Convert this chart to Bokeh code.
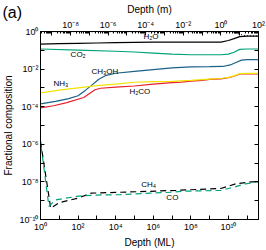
import math
from bokeh.plotting import figure
from bokeh.models import Range1d, LogScale, LogAxis, FixedTicker, CustomJSTickFormatter, Label
from bokeh.embed import file_html
from bokeh.resources import INLINE

# ---- data (depth in monolayers, fractional composition) ----
depth_h2o = [1, 10, 100, 1e3, 1e4, 1e5, 1e6, 1e7, 1e8, 1e9, 4e9, 1e10, 2e10, 4e10, 1e11, 4e11]
h2o = [0.214, 0.224, 0.234, 0.245, 0.257, 0.263, 0.269, 0.269, 0.269, 0.269, 0.275, 0.331, 0.417, 0.537, 0.562, 0.562]

depth_co2 = [1, 100, 1e4, 1e5, 1e6, 1e7, 1e8, 1e9, 4e9, 1e10, 2e10, 4e10, 1e11, 4e11]
co2 = [0.117, 0.102, 0.089, 0.081, 0.071, 0.062, 0.058, 0.058, 0.058, 0.063, 0.079, 0.112, 0.117, 0.117]

depth_ch3oh = [1, 6.3, 31.6, 100, 251, 501, 1259, 3162, 1e4, 1e5, 1e6, 1e7, 1e8, 1e9, 5e9, 1.26e10, 2.5e10, 5e10, 1e11, 4e11]
ch3oh = [1.41e-4, 1.91e-4, 2.69e-4, 3.80e-4, 7.59e-4, 1.32e-3, 2.88e-3, 4.68e-3, 6.03e-3, 7.59e-3,
         9.33e-3, 1.15e-2, 1.32e-2, 1.35e-2, 1.38e-2, 1.66e-2, 2.24e-2, 3.02e-2, 3.16e-2, 3.16e-2]

depth_nh3 = [1, 10, 100, 1e3, 1e4, 1e5, 1e6, 1e7, 1e8, 1e9, 4e9, 1e10, 2e10, 4e10, 1e11, 4e11]
nh3 = [5.50e-4, 7.59e-4, 1.0e-3, 1.32e-3, 1.58e-3, 2.0e-3, 2.14e-3, 2.24e-3, 2.51e-3, 2.95e-3,
       3.16e-3, 3.63e-3, 4.37e-3, 5.75e-3, 5.89e-3, 5.89e-3]

depth_h2co = [1, 5, 25, 200, 794, 1585, 1e4, 1e5, 1e6, 1e7, 3.16e7, 1e8, 4e8, 1e9, 4e9, 1e10, 2e10, 4e10, 1e11, 4e11]
h2co = [8.71e-5, 1.12e-4, 1.66e-4, 3.09e-4, 7.94e-4, 9.55e-4, 1.10e-3, 1.26e-3, 1.58e-3, 1.91e-3,
        2.04e-3, 2.29e-3, 2.51e-3, 2.82e-3, 3.02e-3, 3.47e-3, 4.17e-3, 5.50e-3, 5.62e-3, 5.62e-3]

depth_co = [1, 2.8, 6.3, 100, 1e3, 1.8e4, 7e5, 1e7, 3.16e7, 4e9, 2.5e10, 8e10, 4e11]
co = [1.4e-6, 5.0e-10, 1.1e-9, 1.74e-9, 2.0e-9, 2.09e-9, 2.51e-9, 2.82e-9, 3.16e-9, 3.55e-9, 5.62e-9, 7.94e-9, 1.0e-8]

depth_ch4 = [1, 3.5, 10, 100, 500, 1.8e4, 7e5, 1.6e7, 4e9, 2.5e10, 1.6e11, 4e11]
ch4 = [1.4e-6, 4.0e-10, 7.9e-10, 1.38e-9, 2.51e-9, 2.82e-9, 3.16e-9, 3.55e-9, 4.47e-9, 7.94e-9, 1.0e-8, 1.0e-8]

depth_total = [1, 1.6e10, 4e10, 8e10, 4e11]
total = [0.97, 0.95, 0.71, 0.60, 0.565]

label_text = ["H\u2082O", "CO\u2082", "NH\u2083", "CH\u2083OH", "H\u2082CO", "CH\u2084", "CO"]
label_x = [3.0e5, 40, 4.9, 515, 5.4e4, 2.3e5, 5e6]
label_y = [0.52, 0.06, 1.8e-3, 7.5e-3, 6.2e-4, 6.9e-9, 1.5e-9]

x_start, x_end = 1, 4e11
m_start, m_end = 2.5e-10, 100
y_start, y_end = 1e-10, 1

FONT = "Liberation Sans"

p = figure(width=266, height=250, x_axis_type="log", y_axis_type="log",
           x_range=Range1d(x_start, x_end), y_range=Range1d(y_start, y_end),
           output_backend="svg", toolbar_location=None)
p.min_border = 0
p.min_border_left = 40
p.min_border_right = 8
p.min_border_top = 29
p.min_border_bottom = 28
p.grid.visible = False
p.outline_line_color = "black"
p.background_fill_color = "white"
p.border_fill_color = "white"

# panel letter as the plot title, pulled down into the top margin
p.title.text = "(a)"
p.title.align = "left"
p.title.offset = -38
p.title.standoff = -40
p.title.text_font = FONT
p.title.text_font_size = "16px"
p.title.text_font_style = "normal"
p.title.text_color = "black"

p.extra_x_ranges = {"m": Range1d(m_start, m_end)}
p.extra_x_scales = {"m": LogScale()}

sup_js = """
const m = {'-':'\u207b','0':'\u2070','1':'\u00b9','2':'\u00b2','3':'\u00b3','4':'\u2074','5':'\u2075','6':'\u2076','7':'\u2077','8':'\u2078','9':'\u2079'};
const e = Math.round(Math.log10(tick));
if (e % 2 !== 0) return '';
return '10' + String(e).split('').map(c => m[c]).join('');
"""
fmt = CustomJSTickFormatter(code=sup_js)
blank = CustomJSTickFormatter(code="return '';")

def style(ax):
    ax.major_tick_in = 4
    ax.major_tick_out = 0
    ax.minor_tick_in = 2
    ax.minor_tick_out = 0
    ax.axis_line_color = "black"
    ax.major_tick_line_color = "black"
    ax.minor_tick_line_color = "black"
    ax.major_label_text_font = FONT
    ax.major_label_text_font_size = "9px"
    ax.major_label_text_color = "black"
    ax.major_label_standoff = 2
    ax.axis_label_text_font = FONT
    ax.axis_label_text_font_size = "10px"
    ax.axis_label_text_font_style = "normal"
    ax.axis_label_text_color = "black"
    ax.axis_label_standoff = 2

xt = FixedTicker(ticks=[10.0 ** k for k in range(0, 12)])
yt = FixedTicker(ticks=[10.0 ** k for k in range(-10, 1)])
mt = FixedTicker(ticks=[10.0 ** k for k in range(-9, 3)],
                 minor_ticks=[j * 10.0 ** k for k in range(-10, 2) for j in range(2, 10)])

bx = p.xaxis[0]
bx.ticker = xt
bx.formatter = fmt
style(bx)
bx.axis_label = "Depth (ML)"

ly = p.yaxis[0]
ly.ticker = yt
ly.formatter = fmt
style(ly)
ly.axis_label = "Fractional composition"

ry = LogAxis(ticker=FixedTicker(ticks=[10.0 ** k for k in range(-10, 1)]), formatter=blank)
style(ry)
ry.major_label_standoff = 0
p.add_layout(ry, "right")

tx = LogAxis(x_range_name="m", ticker=mt, formatter=CustomJSTickFormatter(code=sup_js))
style(tx)
tx.axis_label = "Depth (m)"
p.add_layout(tx, "above")

LW = 1.2
p.line(depth_total, total, color="black", line_width=1.0, line_dash="1 2")
p.line(depth_h2o, h2o, color="black", line_width=LW)
p.line(depth_co2, co2, color="#00a37a", line_width=LW)
p.line(depth_ch3oh, ch3oh, color="#1a6188", line_width=LW)
p.line(depth_h2co, h2co, color="#e8202a", line_width=LW)
p.line(depth_nh3, nh3, color="#f2e300", line_width=LW)
p.line(depth_ch4, ch4, color="black", line_width=LW, line_dash="6 4")
p.line(depth_co, co, color="#00a37a", line_width=LW, line_dash="6 4", line_dash_offset=5)

for t, x, y in zip(label_text, label_x, label_y):
    p.add_layout(Label(x=x, y=y, text=t, text_font=FONT, text_font_size="8px",
                       text_baseline="middle", text_align="left", text_color="black"))

open("out.html", "w").write(file_html(p, INLINE))
